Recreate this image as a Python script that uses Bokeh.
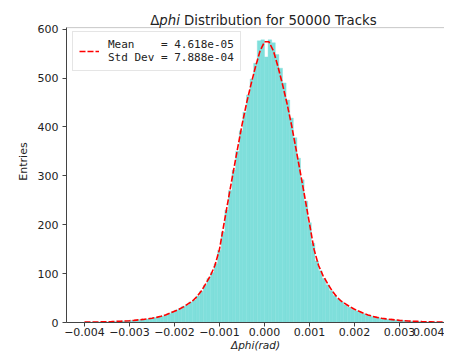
import numpy as np
from bokeh.plotting import figure
from bokeh.models import (FixedTicker, CustomJSTickFormatter, BoxAnnotation, Label, Range1d)
from bokeh.embed import file_html
from bokeh.resources import INLINE

# ---- data ----
bin_lo, bin_hi, n_bins = -0.004, 0.004, 100
hist_counts = [
    1, 0, 1, 1, 1, 2, 1, 2, 2, 3,
    3, 3, 4, 4, 5, 6, 6, 7, 9, 10,
    11, 13, 15, 18, 22, 25, 28, 33, 36, 42,
    46, 54, 64, 76, 90, 102, 120, 148, 185, 230,
    270, 312, 350, 392, 430, 465, 498, 530, 576, 578,
    543, 578, 572, 548, 520, 490, 455, 418, 378, 336,
    292, 248, 204, 162, 126, 106, 90, 77, 65, 55,
    48, 42, 36, 31, 27, 24, 21, 18, 15, 13,
    11, 10, 8, 7, 6, 6, 5, 4, 4, 3,
    3, 2, 2, 2, 1, 1, 1, 1, 0, 1,
]
curve_x = [round(i * 1e-4, 4) for i in range(-40, 41)]
curve_y = [
    0.7, 0.8, 0.9, 1.1, 1.3, 1.5, 1.8, 2.2, 2.6, 3.1,
    3.7, 4.4, 5.3, 6.3, 7.4, 8.7, 10.5, 12.7, 15.5, 19,
    23, 27, 32, 38, 44, 53, 65, 80, 96, 117,
    150, 202, 254, 305, 355, 404, 448, 487, 523, 555,
    574,
    574, 555, 523, 487, 448, 404, 355, 305, 254, 202,
    150, 117, 96, 80, 65, 53, 44, 38, 32, 27,
    23, 19, 15.5, 12.7, 10.5, 8.7, 7.4, 6.3, 5.3, 4.4,
    3.7, 3.1, 2.6, 2.2, 1.8, 1.5, 1.3, 1.1, 0.9, 0.8,
]
x_ticks = [-0.004, -0.003, -0.002, -0.001, 0.0, 0.001, 0.002, 0.003, 0.004]
y_ticks = [0, 100, 200, 300, 400, 500, 600]
legend_text = "Mean    = 4.618e-05\nStd Dev = 7.888e-04"
y_axes_top = 603

edges = np.linspace(bin_lo, bin_hi, n_bins + 1)

p = figure(width=444, height=353, output_backend="svg", toolbar_location=None,
           x_range=Range1d(-0.0044, 0.004), y_range=Range1d(0, 658.5),
           min_border_left=66, min_border_right=0, min_border_top=0,
           min_border_bottom=29)
p.background_fill_color = "white"
p.border_fill_color = "white"
p.outline_line_color = None
p.xgrid.visible = False
p.ygrid.visible = False

p.quad(left=edges[:-1], right=edges[1:], top=hist_counts, bottom=0,
       fill_color="#7fdfdb", line_color="#7fdfdb", line_width=0.4)

p.line(curve_x, curve_y, line_color="red", line_width=1.6, line_dash="6 2",
       legend_label=legend_text)

axis_col = "#444444"
p.add_layout(BoxAnnotation(left=-0.0044, right=0.0044, bottom=0, top=y_axes_top,
                           fill_alpha=0, line_color=axis_col, line_width=1))

for ax in (p.xaxis[0], p.yaxis[0]):
    ax.axis_line_color = axis_col
    ax.major_tick_line_color = axis_col
    ax.minor_tick_line_color = None
    ax.major_tick_in = 0
    ax.major_tick_out = 4
    ax.major_label_text_font = "DejaVu Sans"
    ax.major_label_text_font_size = "11px"
    ax.major_label_text_color = "#222222"
    ax.axis_label_text_font = "DejaVu Sans"
    ax.axis_label_text_font_size = "11px"
    ax.axis_label_text_color = "#222222"
    ax.axis_label_text_font_style = "normal"

p.yaxis.bounds = (0, y_axes_top)
p.yaxis.major_label_standoff = 4
p.yaxis.axis_label_standoff = 5
p.xaxis.major_label_standoff = 1
p.xaxis.axis_label_standoff = 0
p.xaxis.axis_label_text_font_size = "10.5px"

p.xaxis.ticker = FixedTicker(ticks=x_ticks)
p.yaxis.ticker = FixedTicker(ticks=y_ticks)
p.xaxis.formatter = CustomJSTickFormatter(
    code="return tick.toFixed(3).replace('-', '\\u2212');")
p.xaxis.axis_label = "\u0394phi(rad)"
p.xaxis.axis_label_text_font_style = "italic"
p.yaxis.axis_label = "Entries"

# title with italic 'phi'
fs = "13.3px"
title_y = 618
parts = [("\u0394", "normal", -114.3), ("phi", "italic", -105.2),
         ("Distribution for 50000 Tracks", "normal", -80.4)]
for txt, style, off in parts:
    p.add_layout(Label(x=0, y=title_y, x_offset=off, text=txt,
                       text_font="DejaVu Sans", text_font_size=fs,
                       text_font_style=style, text_color="#222222",
                       text_align="left", text_baseline="alphabetic"))

lg = p.legend[0]
lg.location = (6, 251)
lg.margin = 0
lg.padding = 6
lg.spacing = 0
lg.glyph_width = 20
lg.glyph_height = 22
lg.label_height = 22
lg.label_standoff = 9
lg.label_text_font = "DejaVu Sans Mono"
lg.label_text_font_size = "11px"
lg.label_text_line_height = 0.9
lg.label_text_color = "#222222"
lg.border_line_color = "#cccccc"
lg.border_line_width = 1
lg.background_fill_alpha = 0.8

open("out.html", "w").write(file_html(p, INLINE))
